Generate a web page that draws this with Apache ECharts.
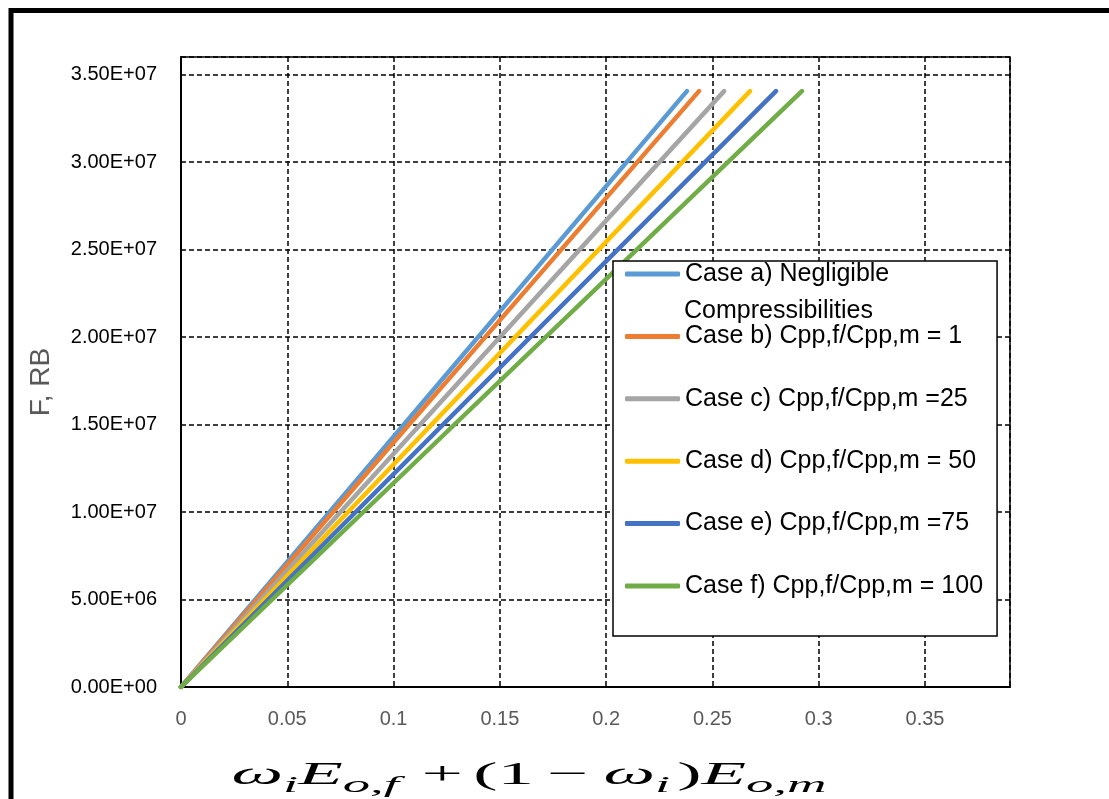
<!DOCTYPE html>
<html>
<head>
<meta charset="utf-8">
<script src="https://cdn.jsdelivr.net/npm/echarts@6/dist/echarts.min.js"></script>
<style>
html,body{margin:0;padding:0;background:#fff;}
#chart{width:1109px;height:799px;}
</style>
</head>
<body>
<div id="chart"></div>
<script>
// F vs omega_i*Eo,f + (1-omega_i)*Eo,m, six compressibility cases

const caseNames = [
  "Case a) Negligible",
  "Case b) Cpp,f/Cpp,m = 1",
  "Case c) Cpp,f/Cpp,m =25",
  "Case d) Cpp,f/Cpp,m = 50",
  "Case e) Cpp,f/Cpp,m =75",
  "Case f) Cpp,f/Cpp,m = 100"
];

const caseColors = ["#5B9BD5", "#ED7D31", "#A5A5A5", "#FFC000", "#4472C4", "#70AD47"];

// F, RB (same for every case)
const fValues = [0, 3.405e7];

// x values for each case
const caseA = [0, 0.238];
const caseB = [0, 0.2437];
const caseC = [0, 0.2555];
const caseD = [0, 0.2677];
const caseE = [0, 0.2799];
const caseF = [0, 0.2921];

const xSets = [caseA, caseB, caseC, caseD, caseE, caseF];

function sci(v){
  if(v === 0) return "0.00E+00";
  const e = Math.floor(Math.log10(v) + 1e-9);
  const m = v / Math.pow(10, e);
  return m.toFixed(2) + "E+" + String(e).padStart(2, "0");
}

const chart = echarts.init(document.getElementById("chart"));

// formula text pieces (x axis title)
const serif = "Liberation Serif";
const mainTok = { fontFamily: serif, fontStyle: "italic", fontSize: 32, lineHeight: 36, verticalAlign: "top", fill: "#000" };
const subTok = { fontFamily: serif, fontStyle: "italic", fontSize: 24, lineHeight: 24, verticalAlign: "top", padding: [14, 0, 0, 0], fill: "#000" };
const opTok = { fontFamily: serif, fontSize: 32, lineHeight: 36, verticalAlign: "top", fill: "#000" };

const option = {
  backgroundColor: "#fff",
  animation: false,
  grid: {
    left: 181,
    top: 57,
    right: 99,
    bottom: 112,
    show: true,
    borderColor: "#000",
    borderWidth: 1.5,
    containLabel: false,
    outerBoundsMode: "none"
  },
  xAxis: {
    type: "value",
    min: 0,
    max: 0.39,
    interval: 0.05,
    axisLine: { show: true, onZero: false, lineStyle: { color: "#000", width: 2 } },
    axisTick: { show: false },
    axisLabel: {
      color: "#595959",
      fontSize: 20,
      fontFamily: "Liberation Sans",
      margin: 22,
      showMaxLabel: false,
      formatter: v => String(+v.toFixed(2))
    },
    splitLine: { show: true, lineStyle: { color: "#000", width: 1.5, type: [5, 3] } }
  },
  yAxis: {
    type: "value",
    min: 0,
    max: 3.6e7,
    interval: 5e6,
    name: "F, RB",
    nameLocation: "middle",
    nameGap: 126,
    nameTextStyle: { color: "#595959", fontSize: 28, fontFamily: "Liberation Sans", padding: [0, 20, 0, 0] },
    axisLine: { show: true, lineStyle: { color: "#000", width: 2 } },
    axisTick: { show: false },
    axisLabel: {
      color: "#000",
      fontSize: 20,
      fontFamily: "Liberation Sans",
      margin: 24,
      showMaxLabel: false,
      formatter: sci
    },
    splitLine: { show: true, lineStyle: { color: "#000", width: 1.5, type: [5, 3] } }
  },
  legend: {
    orient: "vertical",
    left: 613,
    top: 261,
    data: caseNames,
    selectedMode: false,
    icon: "roundRect",
    itemWidth: 55,
    itemHeight: 5,
    itemGap: 36.4,
    backgroundColor: "#fff",
    borderColor: "#000",
    borderWidth: 1.5,
    borderRadius: 0,
    padding: [0, 14, 37, 12],
    textStyle: { color: "#000", fontSize: 25, fontFamily: "Liberation Sans", lineHeight: 26 }
  },
  graphic: [
    {
      type: "rect",
      silent: true,
      z: 100,
      shape: { x: 11, y: 10.5, width: 1200, height: 1000 },
      style: { fill: "none", stroke: "#000", lineWidth: 5 }
    },
    {
      type: "text",
      z: 100,
      style: {
        x: 684,
        y: 311,
        text: "Compressibilities",
        fill: "#000",
        fontSize: 25,
        fontFamily: "Liberation Sans",
        verticalAlign: "middle"
      }
    },
    {
      type: "text",
      z: 100,
      x: 529,
      y: 778,
      scaleX: 2.28,
      style: {
        x: 0,
        y: 0,
        align: "center",
        verticalAlign: "middle",
        text: "{v|ω}{s|i}{v|E}{s|o,f}{pl|+}{p|(1}{pm|−}{v|ω}{s|i}{pr|)}{v|E}{s|o,m}",
        rich: {
          v: mainTok,
          s: subTok,
          p: opTok,
          pl: Object.assign({}, opTok, { padding: [0, 4.5, 0, 10] }),
          pm: Object.assign({}, opTok, { padding: [0, 7, 0, 5.5] }),
          pr: Object.assign({}, opTok, { padding: [0, 0, 0, 3] })
        }
      }
    }
  ],
  series: xSets.map((xs, i) => ({
    name: caseNames[i],
    type: "line",
    showSymbol: false,
    symbol: "none",
    color: caseColors[i],
    lineStyle: { width: 4.5, color: caseColors[i], cap: "round" },
    data: xs.map((x, j) => [x, fValues[j]])
  }))
};

chart.setOption(option);

window.addEventListener("resize", () => chart.resize());
</script>
</body>
</html>
